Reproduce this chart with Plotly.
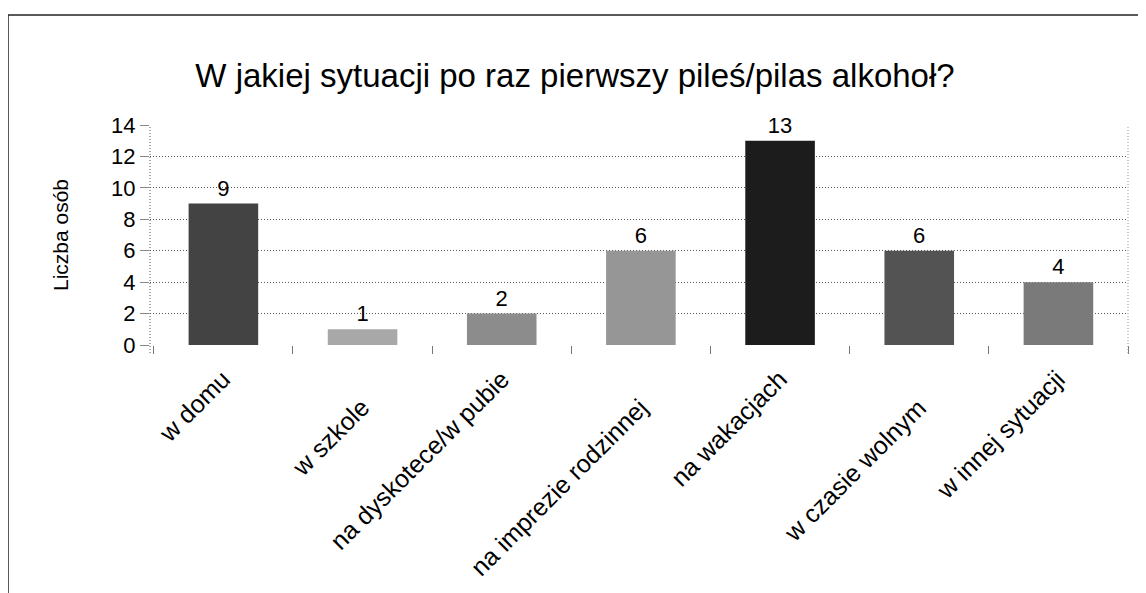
import plotly.graph_objects as go

# --- Data ---
categories = [
    "w domu",
    "w szkole",
    "na dyskotece/w pubie",
    "na imprezie rodzinnej",
    "na wakacjach",
    "w czasie wolnym",
    "w innej sytuacji",
]
counts = [9, 1, 2, 6, 13, 6, 4]
bar_colors = ["#434343", "#a8a8a8", "#8c8c8c", "#969696", "#1c1c1c", "#535353", "#7a7a7a"]
y_ticks = [0, 2, 4, 6, 8, 10, 12, 14]

# page has an 8px body margin, so figure coords = screen coords - 8
W, H = 1146, 593
ml, mr, mt, mb = 142, 26, 117, 256
pw, ph = W - ml - mr, H - mt - mb

fig = go.Figure()
fig.add_trace(
    go.Bar(
        x=categories,
        y=counts,
        marker_color=bar_colors,
        marker_line_width=0,
        width=0.5,
        text=counts,
        textposition="outside",
        textfont=dict(size=22, color="black"),
        cliponaxis=False,
    )
)

# category labels, rotated and staggered like the original (odd/even rows)
for i, cat in enumerate(categories):
    fig.add_annotation(
        x=cat, y=0, xref="x", yref="y",
        text=cat, showarrow=False, textangle=-45,
        xanchor="right", yanchor="top",
        xshift=15, yshift=-17 if i % 2 == 0 else -45,
        font=dict(size=25),
    )

# scan frame (left and top edges)
fx, fy = 0, 7
fig.add_shape(type="line", xref="paper", yref="paper",
              x0=(fx - ml) / pw, x1=(fx - ml) / pw, y0=(H - mb - fy) / ph, y1=-mb / ph,
              line=dict(color="#222", width=1.5))
fig.add_shape(type="line", xref="paper", yref="paper",
              x0=(fx - ml) / pw, x1=(W - ml) / pw, y0=(H - mb - fy) / ph, y1=(H - mb - fy) / ph,
              line=dict(color="#222", width=1.5))
# dotted plot borders (left axis, right edge)
for xp, col in [(0, "#555"), (1, "#999")]:
    fig.add_shape(type="line", xref="paper", yref="paper", x0=xp, x1=xp,
                  y0=-8 / ph, y1=1, line=dict(color=col, width=1, dash="1px,2px"))

fig.update_layout(
    width=W,
    height=H,
    margin=dict(l=ml, r=mr, t=mt, b=mb),
    paper_bgcolor="white",
    plot_bgcolor="white",
    font=dict(family="Liberation Sans, Arial, sans-serif", color="black"),
    title=dict(
        text="W jakiej sytuacji po raz pierwszy pileś/pilas alkohoł?",
        x=(575 - 8) / W,
        xanchor="center",
        y=1 - 67 / H,
        yanchor="middle",
        font=dict(size=33),
    ),
    showlegend=False,
    bargap=0.5,
)
fig.update_xaxes(
    showticklabels=False,
    ticks="outside",
    tickson="boundaries",
    ticklen=8,
    tickcolor="#777",
    showline=False,
    showgrid=False,
)
fig.update_yaxes(
    range=[0, 14],
    tickvals=y_ticks,
    tickfont=dict(size=22),
    ticks="outside",
    ticklen=9,
    tickcolor="#888",
    tickwidth=1,
    showgrid=True,
    gridcolor="#555",
    griddash="1px,2px",
    gridwidth=1,
    showline=False,
    zeroline=False,
    title=dict(text="Liczba osób", font=dict(size=21), standoff=36),
)

fig.write_html("out.html")
